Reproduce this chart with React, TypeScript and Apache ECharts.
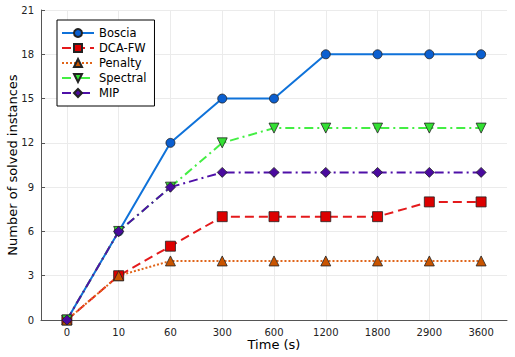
import React, { useEffect, useRef } from "react";
import * as echarts from "echarts";

const categories = ["0", "10", "60", "300", "600", "1200", "1800", "2900", "3600"];
const boscia = [0, 6, 12, 15, 15, 18, 18, 18, 18];
const dcafw = [0, 3, 5, 7, 7, 7, 7, 8, 8];
const penalty = [0, 3, 4, 4, 4, 4, 4, 4, 4];
const spectral = [0, 6, 9, 12, 13, 13, 13, 13, 13];
const mip = [0, 6, 9, 10, 10, 10, 10, 10, 10];

const FONT = "DejaVu Sans";

export default function App() {
  const ref = useRef<HTMLDivElement>(null);
  useEffect(() => {
    const chart = echarts.init(ref.current!, null, { renderer: "svg" });
    const mk = (name: string, data: number[], color: string, mcolor: string, symbol: string, size: number, type: any) => ({
      name,
      type: "line",
      data,
      symbol,
      symbolSize: size,
      showAllSymbol: true,
      lineStyle: { color, width: 2, type },
      itemStyle: { color: mcolor, borderColor: "#222", borderWidth: 0.8 },
      emphasis: { disabled: true },
    });
    chart.setOption({
      animation: false,
      textStyle: { fontFamily: FONT },
      grid: { left: 41, right: 8, top: 10, bottom: 37, outerBoundsMode: "none", containLabel: false },
      legend: {
        left: 57,
        top: 20,
        orient: "vertical",
        backgroundColor: "#fff",
        borderColor: "#000",
        borderWidth: 1,
        padding: [7, 8, 7, 4],
        itemWidth: 32,
        itemHeight: 10,
        itemGap: 3,
        textStyle: { fontFamily: FONT, fontSize: 11.5, lineHeight: 10, color: "#000" },
        data: ["Boscia", "DCA-FW", "Penalty", "Spectral", "MIP"],
      },
      xAxis: {
        type: "category",
        data: categories,
        boundaryGap: true,
        name: "Time (s)",
        nameLocation: "middle",
        nameGap: 18,
        nameMoveOverlap: false,
        nameTextStyle: { fontFamily: FONT, fontSize: 13, color: "#000" },
        axisLine: { lineStyle: { color: "#555", width: 1 } },
        axisTick: { inside: true, length: 4, alignWithLabel: true, lineStyle: { color: "#555" } },
        axisLabel: { fontFamily: FONT, fontSize: 10, color: "#222", margin: 7 },
        splitLine: { show: true, alignWithLabel: true, lineStyle: { color: "#ebebeb", width: 1 } },
      },
      yAxis: {
        type: "value",
        min: 0,
        max: 21,
        interval: 3,
        name: "Number of solved instances",
        nameLocation: "middle",
        nameGap: 22,
        nameMoveOverlap: false,
        nameTextStyle: { fontFamily: FONT, fontSize: 13, color: "#000" },
        axisLine: { show: true, lineStyle: { color: "#555", width: 1 } },
        axisTick: { show: true, inside: true, length: 4, lineStyle: { color: "#555" } },
        axisLabel: { fontFamily: FONT, fontSize: 10, color: "#222", margin: 7 },
        splitLine: { show: true, lineStyle: { color: "#ebebeb", width: 1 } },
      },
      series: [
        mk("Boscia", boscia, "#0f72d9", "#0b5fd0", "circle", 9, "solid"),
        mk("DCA-FW", dcafw, "#e41a1c", "#dd0000", "rect", 10, [9, 5]),
        mk("Penalty", penalty, "#e0651a", "#c95400", "triangle", 10, [2, 2]),
        mk("Spectral", spectral, "#44ee44", "#33e033", "path://M0,0 L10,0 L5,10 Z", 10, [9, 4, 2, 4]),
        mk("MIP", mip, "#4f10a8", "#4a0a9e", "diamond", 10, [9, 4, 2, 4]),
      ],
    });
    return () => chart.dispose();
  }, []);
  return <div ref={ref} style={{ width: 515, height: 357, position: "absolute", left: 0, top: 0 }} />;
}
